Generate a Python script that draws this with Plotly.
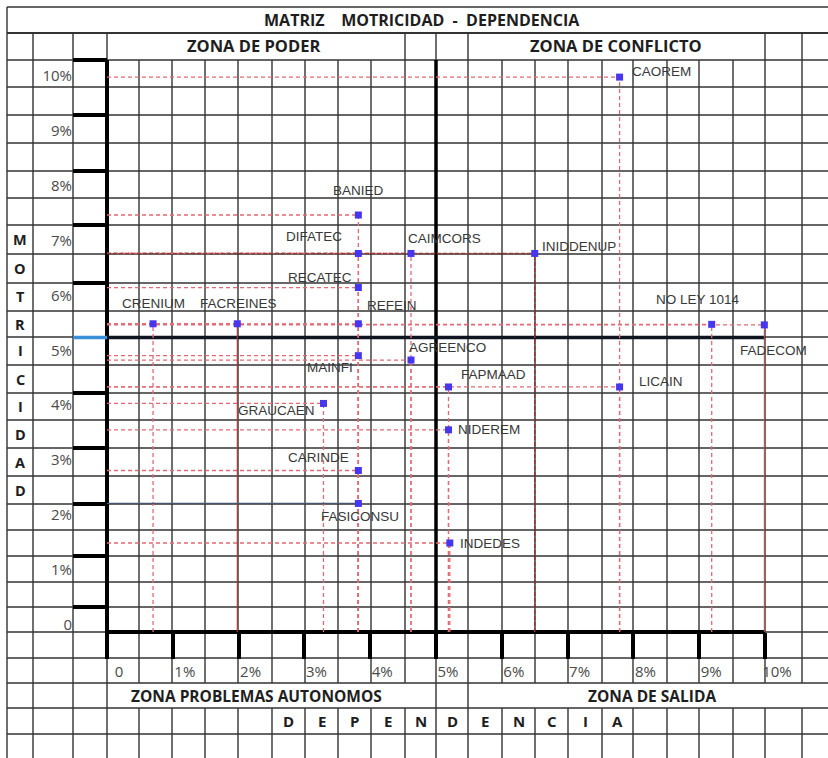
import plotly.graph_objects as go

# ----------------------------- data -----------------------------
names = ["CAOREM", "BANIED", "DIFATEC", "CAIMCORS", "INIDDENUP", "RECATEC",
         "CRENIUM", "FACREINES", "REFEIN", "NO LEY 1014", "FADECOM", "MAINFI",
         "AGREENCO", "FAPMAAD", "LICAIN", "GRAUCAEN", "NIDEREM", "CARINDE",
         "FASICONSU", "INDEDES"]
dependencia = [7.79, 3.82, 3.82, 4.62, 6.50, 3.82,
               0.70, 1.98, 3.82, 9.19, 9.99, 3.82,
               4.62, 5.19, 7.79, 3.29, 5.19, 3.82,
               3.82, 5.21]
motricidad = [10.10, 7.59, 6.89, 6.89, 6.89, 6.27,
              5.61, 5.61, 5.61, 5.60, 5.59, 5.03,
              4.95, 4.46, 4.46, 4.16, 3.68, 2.94,
              2.34, 1.62]
limit_dependencia = 5.0
limit_motricidad = 5.36

tick_values = [0, 1, 2, 3, 4, 5, 6, 7, 8, 9, 10]
x_tick_labels = ["0", "1%", "2%", "3%", "4%", "5%", "6%", "7%", "8%", "9%", "10%"]
y_tick_labels = ["0", "1%", "2%", "3%", "4%", "5%", "6%", "7%", "8%", "9%", "10%"]

NB = "\u00a0"
title_text = "MATRIZ" + NB * 4 + "MOTRICIDAD" + NB * 2 + "-" + NB * 2 + "DEPENDENCIA"
zone_top_left = "ZONA DE PODER"
zone_top_right = "ZONA DE CONFLICTO"
zone_bottom_left = "ZONA PROBLEMAS AUTONOMOS"
zone_bottom_right = "ZONA DE SALIDA"
y_letters = list("MOTRICIDAD")
x_letters = list("DEPENDENCIA")

# ----------------------------- layout constants -----------------------------
W, H = 828, 758
X_PX0, X_PXU = 107, 65.8      # pixel of dependencia = 0, pixels per 1 %
Y_PX0, Y_PXU = 632, 54.94     # pixel of motricidad = 0, pixels per 1 %
x_range = [(0 - X_PX0) / X_PXU, (W - X_PX0) / X_PXU]
y_range = [(Y_PX0 - H) / Y_PXU, (Y_PX0 - 0) / Y_PXU]


def pxx(p):
    return p / W


def pxy(p):
    return 1 - p / H


COLS = [7, 33, 73, 107, 139, 172, 205, 238, 272, 305, 338, 371, 405, 436,
        468, 502, 535, 568, 602, 633, 667, 699, 733, 765, 802]
ROWS = [7, 33, 60, 87, 115, 143, 171, 198, 225, 254, 283, 311, 337, 365, 393,
        420, 448, 476, 504, 530, 556, 582, 607, 632, 658, 683, 708, 734]
GRID = "#333333"

shapes = []


def seg(x0, y0, x1, y1, color=GRID, width=1.4, xref="paper", yref="paper", layer="below", dash=None):
    d = dict(type="line", x0=x0, y0=y0, x1=x1, y1=y1, xref=xref, yref=yref,
             line=dict(color=color, width=width), layer=layer)
    if dash:
        d["line"]["dash"] = dash
    shapes.append(d)


# vertical grid lines
for c in COLS:
    if c == 7:
        spans = [(7, H)]
    elif c in (33, 73, 107, 436, 468):
        spans = [(33, H)]
    elif c in (405, 765, 802):
        spans = [(33, 683), (708, H)]
    else:
        spans = [(60, 683), (708, H)]
    for a, b in spans:
        seg(pxx(c), pxy(a), pxx(c), pxy(b))
# horizontal grid lines
for r in ROWS:
    w = 2.2 if r == 33 else (1.6 if r == 7 else 1.4)
    seg(pxx(7), pxy(r), 1, pxy(r), width=w)

# thick axis decorations
seg(0, pxy(60), 0, pxy(658), color="#000", width=4, xref="x")
seg(limit_dependencia, pxy(60), limit_dependencia, pxy(658), color="#000", width=3.5, xref="x")
seg(0, 0, 10, 0, color="#000", width=4, xref="x", yref="y")
for r in [60, 115, 171, 225, 283, 393, 448, 504, 556, 607]:
    seg(pxx(73), pxy(r), pxx(107), pxy(r), color="#000", width=4)
seg(pxx(73), limit_motricidad, pxx(107), limit_motricidad, color="#3b8fd6", width=3.5, yref="y")
seg(0, limit_motricidad, 10, limit_motricidad, color="#0e1420", width=3.5, xref="x", yref="y")

# ----------------------------- traces -----------------------------
DROP = dict(color="#e36a74", width=1.3, dash="4px,3px")
overrides = {
    ("INIDDENUP", "v"): dict(color="#a03030", width=1.4, dash="4px,2px"),
    ("INIDDENUP", "h"): dict(color="#9a3a34", width=1.4, dash="4px,2px"),
    ("FACREINES", "v"): dict(color="#b03a3a", width=1.1, dash="solid"),
    ("FADECOM", "v"): dict(color="#c85050", width=1.0, dash="solid"),
    ("FASICONSU", "h"): dict(color="#46566e", width=1.2, dash="solid"),
}

groups = {}
for n, x, y in zip(names, dependencia, motricidad):
    # drop lines start on the axes, as in the original worksheet chart
    for kind, xs, ys in (("h", [0, x], [y, y]), ("v", [x, x], [0, y])):
        st = overrides.get((n, kind), DROP)
        key = tuple(sorted(st.items()))
        g = groups.setdefault(key, ([], []))
        g[0].extend(xs + [None])
        g[1].extend(ys + [None])

fig = go.Figure()
for key, (xs, ys) in groups.items():
    st = dict(key)
    fig.add_trace(go.Scatter(x=xs, y=ys, mode="lines", line=st, hoverinfo="skip", showlegend=False))

fig.add_trace(go.Scatter(x=dependencia, y=motricidad, mode="markers", text=names,
                         marker=dict(symbol="square", size=7, color="#4636ee"),
                         hovertemplate="%{text}<br>Dependencia %{x}%<br>Motricidad %{y}%<extra></extra>",
                         showlegend=False))

# label placement: anchor, dx, dy (pixels, dy positive = down)
label_pos = {
    "CAOREM": ("left", 10, -6), "BANIED": ("center", 0, -25), "DIFATEC": ("right", -14, -17),
    "CAIMCORS": ("left", -5, -15), "INIDDENUP": ("left", 5, -7), "RECATEC": ("right", -4, -10),
    "CRENIUM": ("center", 0, -20), "FACREINES": ("center", 1, -20), "REFEIN": ("left", 7, -18),
    "NO LEY 1014": ("center", -14, -25), "FADECOM": ("center", 9, 26), "MAINFI": ("right", -3, 12),
    "AGREENCO": ("left", -4, -13), "FAPMAAD": ("left", 10, -12), "LICAIN": ("left", 17, -5),
    "GRAUCAEN": ("right", -6, 7), "NIDEREM": ("left", 7, 0), "CARINDE": ("right", -7, -13),
    "FASICONSU": ("center", 2, 13), "INDEDES": ("left", 8, 0),
}
annotations = []
LBL_FONT = dict(family="Liberation Sans, Arial", size=13.5, color="#383838")
for n, x, y in zip(names, dependencia, motricidad):
    anc, dx, dy = label_pos[n]
    annotations.append(dict(x=x, y=y, xref="x", yref="y", text=n, showarrow=False,
                            xanchor=anc, yanchor="middle", xshift=dx, yshift=-dy, font=LBL_FONT))


def ptext(text, cx, cy, size, color="#1e1e1e"):
    annotations.append(dict(x=pxx(cx), y=pxy(cy), xref="paper", yref="paper", text=text,
                            showarrow=False, xanchor="center", yanchor="middle",
                            font=dict(family="Open Sans", size=size, color=color, weight="bold")))


ptext(title_text, 422, 20, 16)
ptext(zone_top_left, 254, 46, 16.5)
ptext(zone_top_right, 616, 46, 16.5)
ptext(zone_bottom_left, 256, 696, 15.5)
ptext(zone_bottom_right, 652, 696, 15.5)
for i, ch in enumerate(y_letters):
    r0 = ROWS.index(225) + i
    ptext(ch, 20, (ROWS[r0] + ROWS[r0 + 1]) / 2, 14.5)
for i, ch in enumerate(x_letters):
    c0 = COLS.index(272) + i
    ptext(ch, (COLS[c0] + COLS[c0 + 1]) / 2, 721, 15)

TICKF = dict(family="Open Sans", size=15, color="#4a4a4a")
fig.update_layout(
    width=W, height=H, margin=dict(l=0, r=0, t=0, b=0, pad=0, autoexpand=False),
    paper_bgcolor="white", plot_bgcolor="white",
    shapes=shapes, annotations=annotations,
    xaxis=dict(range=x_range, showgrid=False, zeroline=False, showline=False,
               tickmode="array", tickvals=tick_values, ticktext=x_tick_labels,
               ticks="outside", ticklen=26, tickwidth=4, tickcolor="#000",
               anchor="free", position=pxy(Y_PX0), tickfont=TICKF, ticklabelshift=12),
    yaxis=dict(range=y_range, showgrid=False, zeroline=False, showline=False,
               tickmode="array", tickvals=tick_values, ticktext=y_tick_labels,
               ticks="", anchor="free", position=pxx(72), tickfont=TICKF,
               ticklabelshift=-7),
)

fig.write_html("out.html", config={"displayModeBar": False},
               post_script="document.body.style.margin='0';")
